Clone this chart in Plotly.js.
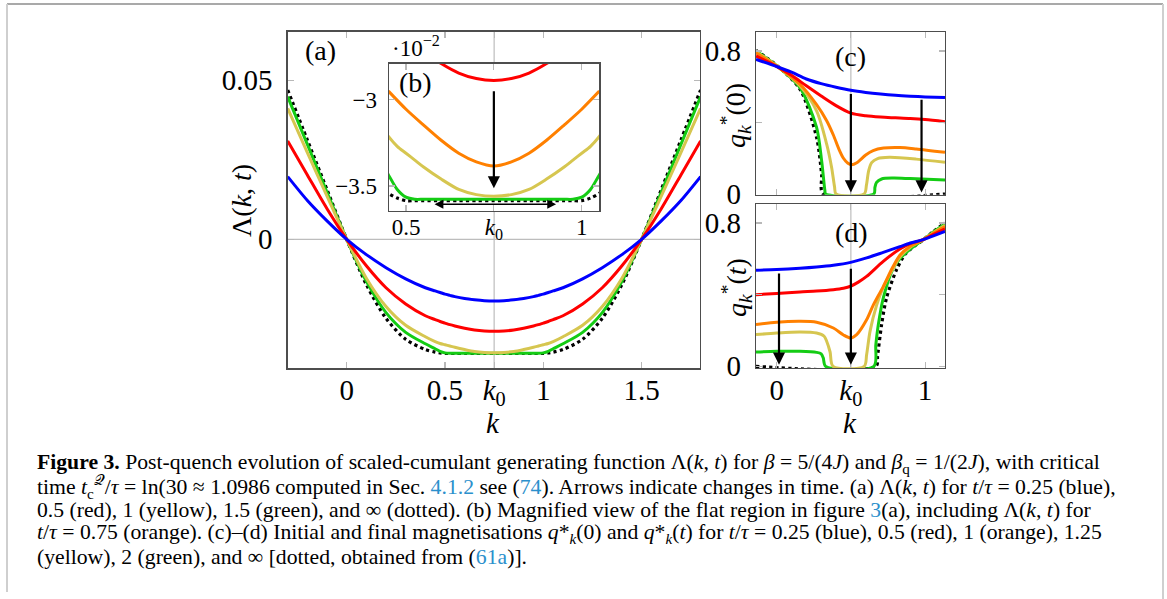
<!DOCTYPE html>
<html>
<head>
<meta charset="utf-8">
<script src="https://cdn.plot.ly/plotly-3.0.1.min.js"></script>
<style>
  html, body { margin: 0; padding: 0; background: #fff; }
  #chart { width: 1167px; height: 599px; }
</style>
</head>
<body>
<div id="chart"></div>
<script>
// ---------------- data: panel (a) and inset (b) ----------------
const K0_A = 0.75;   // position of k0 in panels (a),(b)
const K0_CD = 0.5;   // position of k0 tick in panels (c),(d)

const kA = [-0.3, -0.2, -0.1, 0, 0.1, 0.2, 0.3, 0.4, 0.45, 0.475, 0.5, 0.525, 0.55, 0.6, 0.65, 0.7, 0.75,
            0.8, 0.85, 0.9, 0.95, 0.975, 1.0, 1.025, 1.05, 1.1, 1.2, 1.3, 1.4, 1.5, 1.6, 1.7, 1.8];
const lamBlue   = [0.0197, 0.0122, 0.0058, 0, -0.0048, -0.0089, -0.0124, -0.0152, -0.0162, -0.0167, -0.0172, -0.0176, -0.0180, -0.0186, -0.0190, -0.0193, -0.0194,
                   -0.0193, -0.0190, -0.0186, -0.0180, -0.0176, -0.0172, -0.0167, -0.0162, -0.0152, -0.0124, -0.0089, -0.0048, 0, 0.0058, 0.0122, 0.0197];
const lamRed    = [0.0309, 0.0202, 0.0096, 0, -0.0083, -0.0152, -0.0203, -0.0240, -0.0252, -0.0258, -0.0263, -0.0268, -0.0272, -0.0279, -0.02845, -0.02877, -0.02888,
                   -0.02877, -0.02845, -0.0279, -0.0272, -0.0268, -0.0263, -0.0258, -0.0252, -0.0240, -0.0203, -0.0152, -0.0083, 0, 0.0096, 0.0202, 0.0309];
const lamYellow = [0.0411, 0.0272, 0.0136, 0, -0.0122, -0.0211, -0.0270, -0.0306, -0.03213, -0.0327, -0.0331, -0.0335, -0.0339, -0.0346, -0.0352, -0.0355, -0.0356,
                   -0.0355, -0.0352, -0.0346, -0.0339, -0.0335, -0.0331, -0.0327, -0.03213, -0.0306, -0.0270, -0.0211, -0.0122, 0, 0.0136, 0.0272, 0.0411];
const lamGreen  = [0.0448, 0.0298, 0.0148, 0, -0.0132, -0.0230, -0.0292, -0.0328, -0.03436, -0.0352, -0.03565, -0.03577, -0.03577, -0.03577, -0.03577, -0.03577, -0.03577,
                   -0.03577, -0.03577, -0.03577, -0.03577, -0.03577, -0.03565, -0.0352, -0.03436, -0.0328, -0.0292, -0.0230, -0.0132, 0, 0.0148, 0.0298, 0.0448];
const lamDotted = [0.0469, 0.0312, 0.0156, 0, -0.0142, -0.0248, -0.0314, -0.0346, -0.03543, -0.0357, -0.03585, -0.03585, -0.03585, -0.03585, -0.03585, -0.03585, -0.03585,
                   -0.03585, -0.03585, -0.03585, -0.03585, -0.03585, -0.03585, -0.0357, -0.03543, -0.0346, -0.0314, -0.0248, -0.0142, 0, 0.0156, 0.0312, 0.0469];
const kB = [0.45, 0.5, 0.55, 0.6, 0.65, 0.7, 0.75, 0.8, 0.85, 0.9, 0.95, 1.0, 1.05];
const lamOrange = [-0.02950, -0.03055, -0.03147, -0.03235, -0.03310, -0.03360, -0.03384, -0.03360, -0.03310, -0.03235, -0.03147, -0.03055, -0.02950];

// ---------------- data: panel (c)  q*_k(0) ----------------
const kcBlue   = [-0.139, 0, 0.1, 0.2, 0.3, 0.4, 0.5, 0.6, 0.7, 0.8, 0.9, 1.0, 1.134];
const qcBlue   = [0.753, 0.713, 0.681, 0.643, 0.617, 0.597, 0.580, 0.568, 0.559, 0.552, 0.547, 0.543, 0.539];
const kcRed    = [-0.139, 0, 0.1, 0.2, 0.3, 0.4, 0.5, 0.6, 0.7, 0.8, 0.9, 1.0, 1.134];
const qcRed    = [0.772, 0.714, 0.664, 0.605, 0.548, 0.494, 0.452, 0.437, 0.430, 0.426, 0.422, 0.416, 0.404];
const kcOrange = [-0.139, 0, 0.157, 0.269, 0.337, 0.382, 0.42, 0.45, 0.48, 0.505, 0.54, 0.6, 0.65, 0.72, 0.83, 0.94, 1.134];
const qcOrange = [0.790, 0.716, 0.614, 0.500, 0.410, 0.330, 0.250, 0.200, 0.172, 0.164, 0.175, 0.218, 0.243, 0.257, 0.260, 0.252, 0.233];
const kcYellow = [-0.139, 0, 0.157, 0.269, 0.337, 0.37, 0.39, 0.40, 0.59, 0.605, 0.62, 0.64, 0.68, 0.76, 0.94, 1.134];
const qcYellow = [0.796, 0.717, 0.605, 0.465, 0.279, 0.150, 0.040, 0.0, 0.0, 0.050, 0.130, 0.175, 0.198, 0.205, 0.195, 0.177];
const kcGreen  = [-0.139, 0, 0.157, 0.269, 0.303, 0.325, 0.33, 0.655, 0.662, 0.673, 0.707, 0.786, 0.9, 1.134];
const qcGreen  = [0.800, 0.718, 0.595, 0.372, 0.186, 0.019, 0.0, 0.0, 0.037, 0.065, 0.084, 0.089, 0.086, 0.078];
const kcDotted = [-0.139, 0, 0.157, 0.269, 0.303, 0.314, 1.134];
const qcDotted = [0.803, 0.720, 0.586, 0.316, 0.110, 0.0, 0.0];

// ---------------- data: panel (d)  q*_k(t) ----------------
const kdBlue   = [-0.139, 0, 0.157, 0.269, 0.382, 0.498, 0.606, 0.718, 0.83, 0.9, 0.988, 1.06, 1.134];
const qdBlue   = [0.536, 0.540, 0.547, 0.554, 0.564, 0.580, 0.605, 0.636, 0.668, 0.688, 0.707, 0.730, 0.753];
const kdRed    = [-0.139, 0, 0.157, 0.269, 0.382, 0.45, 0.498, 0.55, 0.606, 0.718, 0.83, 0.9, 0.988, 1.06, 1.134];
const qdRed    = [0.400, 0.406, 0.415, 0.420, 0.428, 0.436, 0.447, 0.470, 0.502, 0.586, 0.655, 0.685, 0.707, 0.738, 0.768];
const kdOrange = [-0.139, 0, 0.157, 0.269, 0.382, 0.45, 0.498, 0.539, 0.606, 0.65, 0.718, 0.78, 0.83, 0.9, 0.988, 1.06, 1.134];
const qdOrange = [0.233, 0.246, 0.251, 0.246, 0.214, 0.175, 0.158, 0.177, 0.260, 0.340, 0.445, 0.550, 0.620, 0.670, 0.707, 0.745, 0.780];
const kdYellow = [-0.139, 0, 0.157, 0.269, 0.32, 0.337, 0.36, 0.38, 0.59, 0.606, 0.629, 0.673, 0.718, 0.78, 0.83, 0.9, 0.988, 1.06, 1.134];
const qdYellow = [0.177, 0.186, 0.192, 0.186, 0.168, 0.140, 0.080, 0.0, 0.0, 0.065, 0.195, 0.340, 0.440, 0.540, 0.610, 0.665, 0.707, 0.748, 0.787];
const kdGreen  = [-0.139, 0, 0.157, 0.269, 0.3, 0.314, 0.33, 0.655, 0.668, 0.685, 0.718, 0.786, 0.83, 0.9, 0.988, 1.06, 1.134];
const qdGreen  = [0.080, 0.084, 0.084, 0.078, 0.070, 0.047, 0.0, 0.0, 0.120, 0.233, 0.381, 0.549, 0.600, 0.655, 0.707, 0.752, 0.794];
const kdDotted = [-0.139, 0.669, 0.68, 0.707, 0.74, 0.808, 0.87, 0.988, 1.06, 1.134];
const qdDotted = [0.0, 0.0, 0.060, 0.233, 0.381, 0.540, 0.630, 0.707, 0.755, 0.800];

// ---------------- tick labels ----------------
const K0TXT = '<i>k</i><sub>0</sub>';
const ticksXA = [0, 0.5, K0_A, 1, 1.5], ticksXAtxt = ['0', '0.5', K0TXT, '1', '1.5'];
const ticksYA = [0, 0.05], ticksYAtxt = ['0', '0.05'];
const ticksXB = [0.5, K0_A, 1], ticksXBtxt = ['0.5', K0TXT, '1'];
const ticksYB = [-0.035, -0.03], ticksYBtxt = ['\u22123.5', '\u22123'];
const ticksXCD = [0, K0_CD, 1], ticksXCDtxt = ['0', K0TXT, '1'];
const ticksYCD = [0, 0.4, 0.8], ticksYCDtxt = ['0', '', '0.8'];

// ---------------- styles ----------------
const FONT = 'Liberation Serif, Times New Roman, serif';
const C = { blue: '#0000ff', red: '#ff0000', orange: '#ff8000', yellow: '#d6c650', green: '#14cc14', black: '#000000' };
const LW = 3;

function line(x, y, color, xa, ya, dotted) {
  return { x: x, y: y, xaxis: xa, yaxis: ya, type: 'scatter', mode: 'lines', hoverinfo: 'skip',
           line: { color: color, width: dotted ? 3.2 : LW, dash: dotted ? 'dot' : 'solid', shape: 'spline', smoothing: 0.8 },
           showlegend: false };
}

const traces = [
  // (a)
  line(kA, lamDotted, C.black, 'x', 'y', true),
  line(kA, lamGreen, C.green, 'x', 'y'),
  line(kA, lamYellow, C.yellow, 'x', 'y'),
  line(kA, lamRed, C.red, 'x', 'y'),
  line(kA, lamBlue, C.blue, 'x', 'y'),
  // (b) inset
  line(kA, lamDotted, C.black, 'x2', 'y2', true),
  line(kA, lamGreen, C.green, 'x2', 'y2'),
  line(kA, lamYellow, C.yellow, 'x2', 'y2'),
  line(kB, lamOrange, C.orange, 'x2', 'y2'),
  line(kA, lamRed, C.red, 'x2', 'y2'),
  // (c)
  line(kcDotted, qcDotted, C.black, 'x3', 'y3', true),
  line(kcGreen, qcGreen, C.green, 'x3', 'y3'),
  line(kcYellow, qcYellow, C.yellow, 'x3', 'y3'),
  line(kcOrange, qcOrange, C.orange, 'x3', 'y3'),
  line(kcRed, qcRed, C.red, 'x3', 'y3'),
  line(kcBlue, qcBlue, C.blue, 'x3', 'y3'),
  // (d)
  line(kdDotted, qdDotted, C.black, 'x4', 'y4', true),
  line(kdGreen, qdGreen, C.green, 'x4', 'y4'),
  line(kdYellow, qdYellow, C.yellow, 'x4', 'y4'),
  line(kdOrange, qdOrange, C.orange, 'x4', 'y4'),
  line(kdRed, qdRed, C.red, 'x4', 'y4'),
  line(kdBlue, qdBlue, C.blue, 'x4', 'y4')
];

const W = 1167, H = 599;
const px = X => X / W, py = Y => 1 - Y / H;

function axis(domain, range, anchor, tv, tt, size, extra) {
  return Object.assign({
    domain: domain, range: range, anchor: anchor, fixedrange: true,
    showline: true, linecolor: '#4d4d4d', linewidth: 1.3, mirror: 'ticks',
    ticks: 'inside', ticklen: 6, tickwidth: 1.2, tickcolor: '#b8b8b8',
    showgrid: false, zeroline: false,
    tickmode: 'array', tickvals: tv, ticktext: tt,
    tickfont: { family: FONT, size: size, color: '#000' }
  }, extra || {});
}

const layout = {
  width: W, height: H,
  margin: { l: 0, r: 0, t: 0, b: 0 },
  paper_bgcolor: '#ffffff', plot_bgcolor: '#ffffff',
  showlegend: false,
  xaxis:  axis([px(287.7), px(700)], [-0.3, 1.797], 'y', ticksXA, ticksXAtxt, 29, { ticklabelstandoff: -4 }),
  yaxis:  axis([py(368.3), py(31.7)], [-0.0405, 0.0652], 'x', ticksYA, ticksYAtxt, 29, { ticklabelstandoff: 8 }),
  xaxis2: axis([px(389), px(599.3)], [0.4516, 1.05], 'y2', ticksXB, ticksXBtxt, 23, { ticklabelstandoff: -5 }),
  yaxis2: axis([py(211), py(63.7)], [-0.03645, -0.02791], 'x2', ticksYB, ticksYBtxt, 23, { ticklabelstandoff: 6 }),
  xaxis3: axis([px(756), px(945)], [-0.139, 1.134], 'y3', ticksXCD, ticksXCDtxt, 29, { showticklabels: false }),
  yaxis3: axis([py(194.7), py(32)], [-0.004, 0.906], 'x3', ticksYCD, ticksYCDtxt, 29, { ticklabelstandoff: 8 }),
  xaxis4: axis([px(756), px(945)], [-0.139, 1.134], 'y4', ticksXCD, ticksXCDtxt, 29, { ticklabelstandoff: -4 }),
  yaxis4: axis([py(368), py(204)], [-0.0093, 0.906], 'x4', ticksYCD, ticksYCDtxt, 29, { ticklabelstandoff: 8 }),
  shapes: [],
  annotations: []
};

const GRID = { color: '#bdbdbd', width: 1.2 };
layout.shapes.push(
  { type: 'line', xref: 'x', yref: 'y domain', x0: K0_A, x1: K0_A, y0: 0, y1: 1, line: GRID, layer: 'below' },
  { type: 'line', xref: 'x domain', yref: 'y', x0: 0, x1: 1, y0: 0, y1: 0, line: GRID, layer: 'below' },
  { type: 'line', xref: 'x2', yref: 'y2 domain', x0: K0_A, x1: K0_A, y0: 0, y1: 1, line: GRID, layer: 'below' },
  { type: 'line', xref: 'x3', yref: 'y3 domain', x0: K0_CD, x1: K0_CD, y0: 0, y1: 1, line: GRID, layer: 'below' },
  { type: 'line', xref: 'x4', yref: 'y4 domain', x0: K0_CD, x1: K0_CD, y0: 0, y1: 1, line: GRID, layer: 'below' },
  // page frame
  { type: 'line', xref: 'paper', yref: 'paper', x0: px(7), x1: px(1163), y0: py(4), y1: py(4), line: { color: '#8c8c8c', width: 1.3 } },
  { type: 'line', xref: 'paper', yref: 'paper', x0: px(7), x1: px(7), y0: py(4), y1: py(592), line: { color: '#cfcfcf', width: 2 } },
  { type: 'line', xref: 'paper', yref: 'paper', x0: px(1163), x1: px(1163), y0: py(4), y1: py(599), line: { color: '#cfcfcf', width: 2 } }
);

function txt(X, Y, text, size, opts) {
  return Object.assign({ xref: 'paper', yref: 'paper', x: px(X), y: py(Y), text: text, showarrow: false,
    xanchor: 'center', yanchor: 'middle', font: { family: FONT, size: size, color: '#000' } }, opts || {});
}
function arrow(xa, ya, xh, yh, xt, yt, extra) {
  return Object.assign({ xref: xa, yref: ya, axref: xa, ayref: ya, x: xh, y: yh, ax: xt, ay: yt, text: '',
    showarrow: true, arrowhead: 2, arrowsize: 1.1, arrowwidth: 2.2, arrowcolor: '#000', standoff: 0 }, extra || {});
}

layout.annotations.push(
  txt(320, 51, '(a)', 28),
  txt(415, 82, '(b)', 28),
  txt(850, 57, '(c)', 28),
  txt(851, 232, '(d)', 28),
  txt(390, 46, '\u00b710<sup>\u22122</sup>', 23, { xanchor: 'left' }),
  txt(241, 201, '\u039b(<i>k</i>, <i>t</i>)', 28, { textangle: -90 }),
  txt(493, 423, '<i>k</i>', 29),
  txt(735, 116, '<i>q</i><sub><i>k</i></sub><sup>*</sup>(0)', 28, { textangle: -90 }),
  txt(736, 288, '<i>q</i><sub><i>k</i></sub><sup>*</sup>(<i>t</i>)', 28, { textangle: -90 }),
  txt(850, 423, '<i>k</i>', 29),
  // arrows
  arrow('x2', 'y2', K0_A, -0.03513, K0_A, -0.02942),
  arrow('x2', 'y2', 0.927, -0.03606, 0.577, -0.03606, { arrowside: 'end+start', startarrowhead: 2, startarrowsize: 1.1, arrowwidth: 1.6 }),
  arrow('x3', 'y3', K0_CD, 0.009, K0_CD, 0.567),
  arrow('x3', 'y3', 0.976, 0.009, 0.976, 0.536),
  arrow('x4', 'y4', 0.016, 0.009, 0.016, 0.527),
  arrow('x4', 'y4', K0_CD, 0.009, K0_CD, 0.553)
);

// caption
const LINK = s => '<span style="color:#2b90cc">' + s + '</span>';
const QK = '<i>q</i>*<sub><i>k</i></sub>';
const capLines = [
  '<b>Figure 3.</b> Post-quench evolution of scaled-cumulant generating function \u039b(<i>k</i>, <i>t</i>) for <i>\u03b2</i> = 5/(4<i>J</i>) and <i>\u03b2</i><sub>q</sub> = 1/(2<i>J</i>), with critical',
  'time <i>t</i><sub>c</sub><sup>\ud835\udcac</sup>/<i>\u03c4</i> = ln(30 \u2248 1.0986 computed in Sec. ' + LINK('4.1.2') + ' see (' + LINK('74') + '). Arrows indicate changes in time. (a) \u039b(<i>k</i>, <i>t</i>) for <i>t</i>/<i>\u03c4</i> = 0.25 (blue),',
  '0.5 (red), 1 (yellow), 1.5 (green), and \u221e (dotted). (b) Magnified view of the flat region in figure ' + LINK('3') + '(a), including \u039b(<i>k</i>, <i>t</i>) for',
  '<i>t</i>/<i>\u03c4</i> = 0.75 (orange). (c)\u2013(d) Initial and final magnetisations ' + QK + '(0) and ' + QK + '(<i>t</i>) for <i>t</i>/<i>\u03c4</i> = 0.25 (blue), 0.5 (red), 1 (orange), 1.25',
  '(yellow), 2 (green), and \u221e [dotted, obtained from (' + LINK('61a') + ')].'
];
const capY = [463, 486.5, 510, 533.5, 557];
capLines.forEach((s, i) => layout.annotations.push(txt(35, capY[i], s, 21.7, { xanchor: 'left' })));

Plotly.newPlot('chart', traces, layout, { staticPlot: true, displayModeBar: false });
</script>
</body>
</html>
